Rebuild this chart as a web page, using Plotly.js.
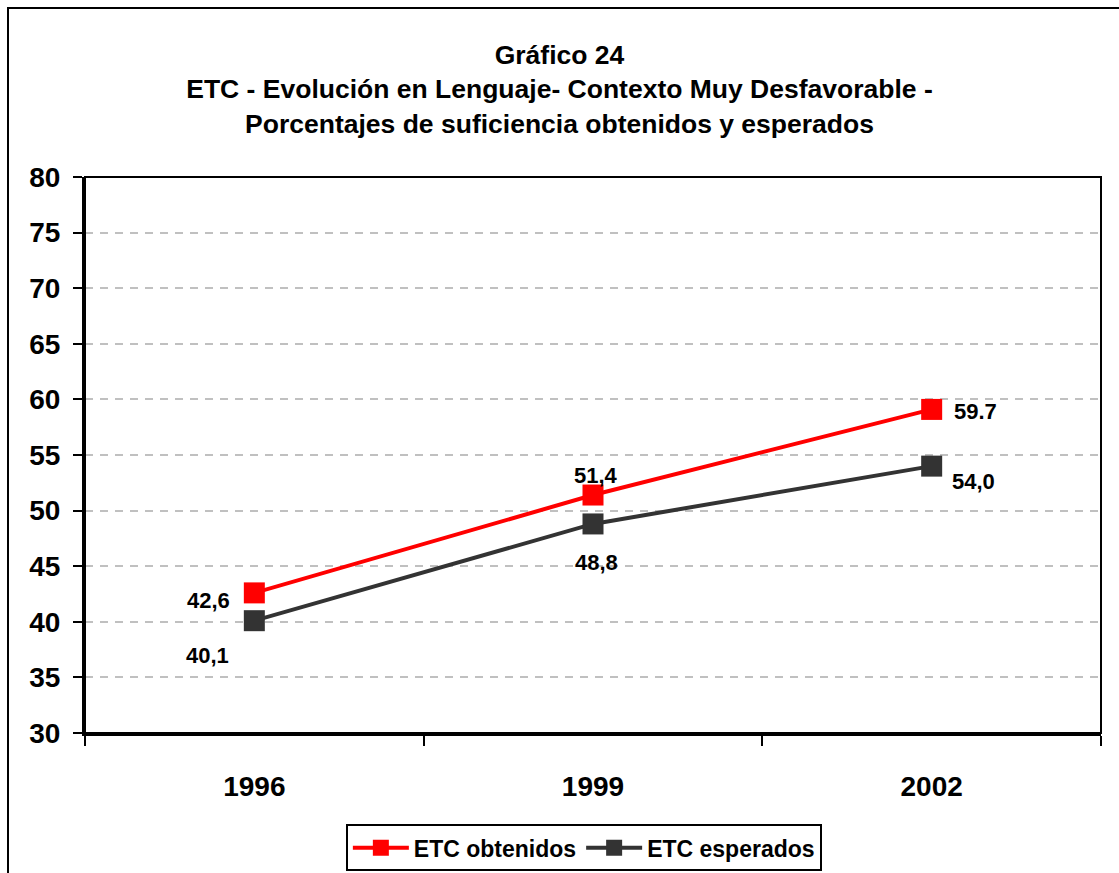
<!DOCTYPE html>
<html>
<head>
<meta charset="utf-8">
<script src="https://cdn.plot.ly/plotly-3.0.1.min.js"></script>
<style>
html,body{margin:0;padding:0;background:#fff;}
#chart{width:1119px;height:873px;}
</style>
</head>
<body>
<div id="chart"></div>
<script>
// ---- data ----
const years = ['1996', '1999', '2002'];
const obtenidos = [42.6, 51.4, 59.1];
const esperados = [40.1, 48.8, 54.0];
const obtenidosLabels = ['42,6', '51,4', '59.7'];
const esperadosLabels = ['40,1', '48,8', '54,0'];
const yTicks = [30, 35, 40, 45, 50, 55, 60, 65, 70, 75, 80];
const titleLines = ['Gráfico 24', 'ETC - Evolución en Lenguaje- Contexto Muy Desfavorable -', 'Porcentajes de suficiencia obtenidos y esperados'];

// ---- style ----
const FONT = 'Liberation Sans, Arial, Helvetica, sans-serif';
const RED = '#ff0000';
const DARK = '#333333';
const obtOffsets = [[-46, -8], [3, 20], [44, -2]];
const espOffsets = [[-47, -35], [3, -39], [42, -15]];

const traces = [
  {
    x: years, y: obtenidos, type: 'scatter', mode: 'lines+markers',
    name: 'ETC obtenidos',
    line: {color: RED, width: 4},
    marker: {symbol: 'square', size: 21, color: RED},
    cliponaxis: false
  },
  {
    x: years, y: esperados, type: 'scatter', mode: 'lines+markers',
    name: 'ETC esperados',
    line: {color: DARK, width: 4},
    marker: {symbol: 'square', size: 21, color: DARK},
    cliponaxis: false
  }
];

const labelFont = {family: FONT, size: 22, weight: 'bold', color: '#000000'};
const annotations = [];
years.forEach((yr, i) => {
  annotations.push({x: i, y: obtenidos[i], xref: 'x', yref: 'y', text: obtenidosLabels[i], showarrow: false,
    xanchor: 'center', yanchor: 'middle',
    xshift: obtOffsets[i][0], yshift: obtOffsets[i][1], font: labelFont});
  annotations.push({x: i, y: esperados[i], xref: 'x', yref: 'y', text: esperadosLabels[i], showarrow: false,
    xanchor: 'center', yanchor: 'middle',
    xshift: espOffsets[i][0], yshift: espOffsets[i][1], font: labelFont});
});

const layout = {
  width: 1119, height: 873,
  margin: {l: 85, r: 18, t: 177, b: 140, autoexpand: false},
  paper_bgcolor: '#ffffff', plot_bgcolor: '#ffffff',
  showlegend: true,
  title: {
    text: titleLines.join('<br>'),
    font: {family: FONT, size: 26.5, weight: 'bold', color: '#000000'},
    x: 0.5, xref: 'container', xanchor: 'center',
    y: 1 - 64 / 873, yref: 'container', yanchor: 'top'
  },
  xaxis: {
    type: 'category', categoryorder: 'array', categoryarray: years,
    range: [-0.5, 2.5], tickson: 'boundaries',
    ticks: 'outside', ticklen: 10, tickwidth: 2, tickcolor: '#000000',
    showline: true, linewidth: 3, linecolor: '#000000',
    showgrid: false, zeroline: false,
    ticklabelstandoff: 26,
    tickfont: {family: FONT, size: 28, weight: 'bold', color: '#000000'},
    fixedrange: true
  },
  yaxis: {
    range: [30, 80], tickvals: yTicks, ticktext: yTicks.map(String),
    ticks: 'outside', ticklen: 9, tickwidth: 2, tickcolor: '#000000',
    showline: true, linewidth: 3, linecolor: '#000000',
    showgrid: true, gridcolor: '#c0c0c0', gridwidth: 2, griddash: '8px,7px',
    zeroline: false,
    ticklabelstandoff: 7,
    tickfont: {family: FONT, size: 28, weight: 'bold', color: '#000000'},
    fixedrange: true
  },
  legend: {
    orientation: 'h', x: 0.491, xanchor: 'center', y: -0.164, yanchor: 'top',
    bordercolor: '#000000', borderwidth: 2, bgcolor: '#ffffff',
    font: {family: FONT, size: 23, weight: 'bold', color: '#000000'},
    itemwidth: 56
  },
  shapes: [
    {type: 'rect', xref: 'paper', yref: 'paper', x0: 0, x1: 1, y0: 0, y1: 1,
     line: {color: '#000000', width: 2}, layer: 'above'},
    {type: 'rect', xref: 'paper', yref: 'paper', x0: -77 / 1016, x1: 1.1, y0: -0.5, y1: 725 / 556,
     line: {color: '#000000', width: 2}, layer: 'above'}
  ],
  annotations: annotations
};

Plotly.newPlot('chart', traces, layout, {displayModeBar: false, staticPlot: true});
</script>
</body>
</html>
